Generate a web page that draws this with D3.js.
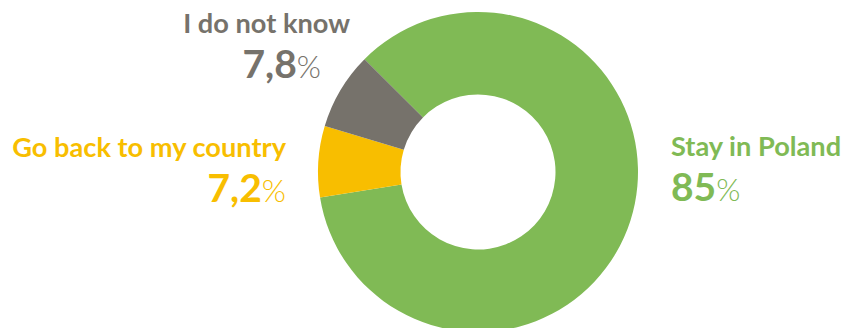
<!DOCTYPE html>
<html>
<head>
<meta charset="utf-8">
<script src="https://cdn.jsdelivr.net/npm/d3@7/dist/d3.min.js"></script>
<style>
  html, body { margin: 0; padding: 0; background: #fff; }
  svg { display: block; font-family: Lato, "Open Sans", sans-serif; }
</style>
</head>
<body>
<svg id="chart" width="845" height="328"></svg>
<script>
// Answers: where respondents plan to live
const categories = ["Stay in Poland", "Go back to my country", "I do not know"];
const values = [85, 7.2, 7.8];
const valueLabels = ["85", "7,2", "7,8"];
const colors = ["#80BA55", "#F8BE00", "#76726B"];

const width = 845, height = 328;
const cx = 478, cy = 172;
const outerR = 160, innerR = 77.5;

const svg = d3.select("#chart");

const start = -45.2 * Math.PI / 180;
const pie = d3.pie().sort(null).value(d => d)
  .startAngle(start).endAngle(start + 2 * Math.PI);
const arc = d3.arc().innerRadius(innerR).outerRadius(outerR);

const g = svg.append("g").attr("transform", `translate(${cx},${cy})`);
g.selectAll("path")
  .data(pie(values))
  .join("path")
  .attr("d", arc)
  .attr("fill", (d, i) => colors[i]);

// Label placement per category: anchor, x, name baseline, value baseline
const layout = [
  { anchor: "start", x: 671, nameY: 156, valueX: 671, valueY: 201 },
  { anchor: "end",   x: 286, nameY: 157, valueX: 286, valueY: 202 },
  { anchor: "end",   x: 350, nameY: 33,  valueX: 321, valueY: 78 }
];

categories.forEach((name, i) => {
  const L = layout[i];
  svg.append("text")
    .attr("x", L.x).attr("y", L.nameY)
    .attr("text-anchor", L.anchor)
    .attr("fill", colors[i])
    .attr("font-size", 27.2)
    .attr("font-weight", 700)
    .text(name);

  const t = svg.append("text")
    .attr("x", L.valueX).attr("y", L.valueY)
    .attr("text-anchor", L.anchor)
    .attr("fill", colors[i]);
  t.append("tspan")
    .attr("font-size", 39)
    .attr("font-weight", 700)
    .text(valueLabels[i]);
  t.append("tspan")
    .attr("font-size", 31)
    .attr("font-weight", 300)
    .text("%");
});
</script>
</body>
</html>
